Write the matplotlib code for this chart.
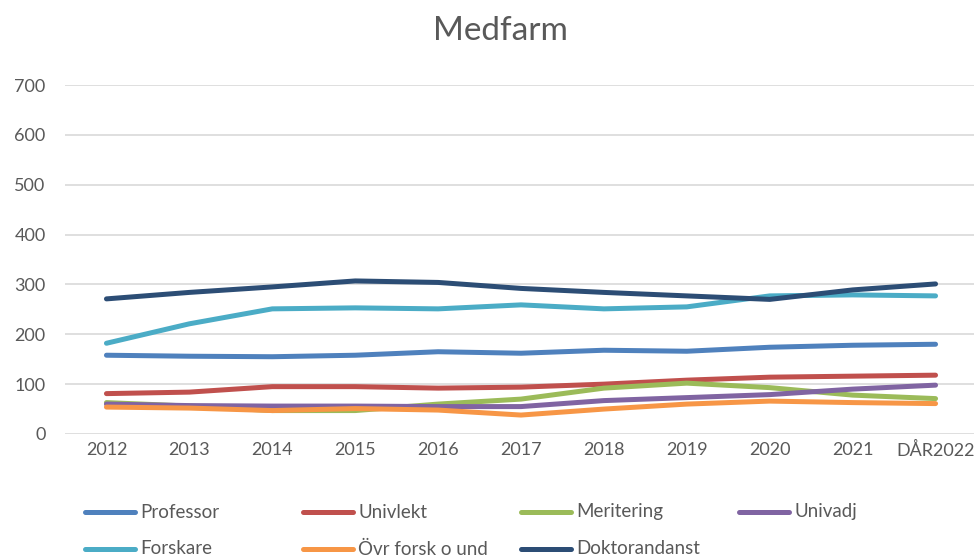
import matplotlib
matplotlib.use("Agg")
import matplotlib.pyplot as plt
from matplotlib.lines import Line2D

years = ["2012", "2013", "2014", "2015", "2016", "2017", "2018", "2019", "2020", "2021", "DÅR2022"]
professor = [158, 156, 155, 158, 165, 162, 168, 166, 174, 178, 180]
univlekt = [81, 84, 95, 95, 92, 94, 100, 108, 114, 116, 118]
meritering = [63, 56, 47, 47, 60, 70, 92, 102, 93, 78, 71]
univadj = [60, 57, 56, 56, 55, 55, 67, 73, 79, 90, 98]
forskare = [182, 221, 251, 253, 251, 259, 251, 255, 277, 279, 277]
ovr = [54, 52, 47, 51, 48, 38, 50, 60, 66, 63, 61]
doktorand = [271, 284, 295, 307, 304, 292, 284, 277, 270, 289, 301]

series = [
    ("Professor", professor, "#4F81BD"),
    ("Univlekt", univlekt, "#C0504D"),
    ("Meritering", meritering, "#9BBB59"),
    ("Univadj", univadj, "#8064A2"),
    ("Forskare", forskare, "#4BACC6"),
    ("Övr forsk o und", ovr, "#F79646"),
    ("Doktorandanst", doktorand, "#2C4D75"),
]

plt.rcParams['font.family'] = ['Lato', 'DejaVu Sans']
W, H = 974, 558
fig = plt.figure(figsize=(W / 100, H / 100), dpi=100)
ax = fig.add_axes([65 / W, 1 - 434 / H, (977 - 65) / W, (434 - 85) / H])

x = list(range(len(years)))
for name, vals, col in series:
    ax.plot(x, vals, color=col, lw=3.6, solid_capstyle='round', solid_joinstyle='round', zorder=3)

ax.set_xlim(-0.5, len(years) - 0.5)
ax.set_ylim(0, 700)
ax.set_yticks(range(0, 701, 100))
ax.set_xticks(x)
ax.set_xticklabels(years)
ax.grid(axis='y', color='#D9D9D9', lw=1.2, zorder=0)
ax.set_axisbelow(True)
for s in ax.spines.values():
    s.set_visible(False)
ax.tick_params(length=0, labelsize=13, colors='#595959')
ax.tick_params(axis='y', pad=14)
ax.tick_params(axis='x', pad=6)

fig.text(500 / W, 1 - 31 / H, "Medfarm", ha='center', va='center', fontsize=24, color='#595959')

# legend
for i, (name, vals, col) in enumerate(series):
    r, c = divmod(i, 4)
    x0 = 85 + 218 * c
    y0 = 512 + 37 * r
    fig.add_artist(Line2D([x0 / W, (x0 + 50) / W], [1 - y0 / H, 1 - y0 / H], color=col, lw=3.6,
                          solid_capstyle='round', transform=fig.transFigure))
    fig.text((x0 + 55) / W, 1 - y0 / H, name, ha='left', va='center', fontsize=13.5, color='#595959')

fig.savefig("out.png", dpi=100)
